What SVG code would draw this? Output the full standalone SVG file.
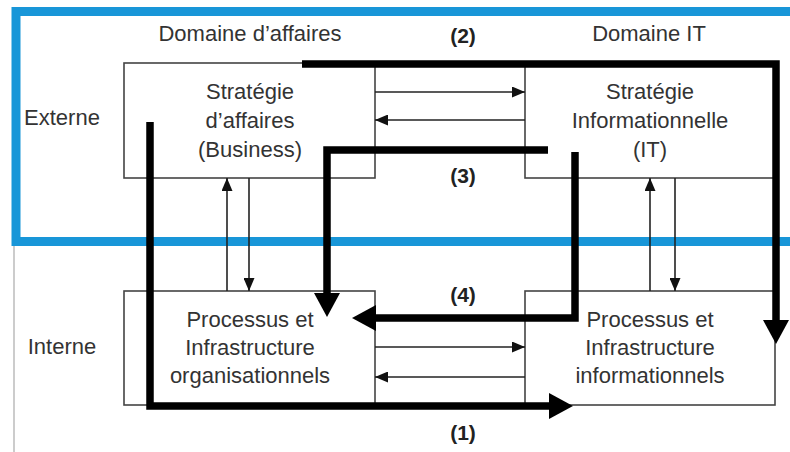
<svg xmlns="http://www.w3.org/2000/svg" width="790" height="452" viewBox="0 0 790 452">
<style>
.box{fill:#fff;stroke:#444;stroke-width:1.6}
.t{font-family:"Liberation Sans",Arial,sans-serif;font-size:22px;fill:#333;text-anchor:middle}
.lb{font-family:"Liberation Sans",Arial,sans-serif;font-size:21px;font-weight:bold;fill:#222;text-anchor:middle}
.thin{fill:none;stroke:#222;stroke-width:1.6}
.thick{fill:none;stroke:#000;stroke-width:7.5;stroke-linejoin:miter;stroke-linecap:butt}
</style>
<defs>
<marker id="a" markerUnits="userSpaceOnUse" markerWidth="13" markerHeight="11" viewBox="0 0 13 11" refX="13" refY="5.5" orient="auto"><path d="M0,0 L13,5.5 L0,11 z" fill="#111"/></marker>
<marker id="A" markerUnits="userSpaceOnUse" markerWidth="24" markerHeight="26" viewBox="0 0 24 26" refX="0" refY="13" orient="auto"><path d="M0,0 L24,13 L0,26 z" fill="#000"/></marker>
</defs>
<rect x="0" y="0" width="790" height="452" fill="#fff"/>
<line x1="14" y1="246" x2="14" y2="452" stroke="#bbb" stroke-width="1.5"/>
<rect x="16" y="11.5" width="800" height="230" fill="none" stroke="#1896d8" stroke-width="9"/>
<text class="t" x="250" y="41">Domaine d’affaires</text>
<text class="t" x="649" y="41">Domaine IT</text>
<text class="t" x="62" y="125">Externe</text>
<text class="t" x="62" y="354">Interne</text>
<g id="strat-affaires">
<rect class="box" x="124" y="63" width="251" height="115"/>
<text class="t" x="250" y="99">Stratégie</text>
<text class="t" x="250" y="128">d’affaires</text>
<text class="t" x="250" y="157">(Business)</text>
</g>
<g id="strat-info">
<rect class="box" x="525" y="63" width="250" height="115"/>
<text class="t" x="650" y="99">Stratégie</text>
<text class="t" x="650" y="128">Informationnelle</text>
<text class="t" x="650" y="157">(IT)</text>
</g>
<g id="proc-org">
<rect class="box" x="124" y="291" width="251" height="114"/>
<text class="t" x="250" y="327">Processus et</text>
<text class="t" x="250" y="355">Infrastructure</text>
<text class="t" x="250" y="383">organisationnels</text>
</g>
<g id="proc-info">
<rect class="box" x="525" y="291" width="250" height="114"/>
<text class="t" x="650" y="327">Processus et</text>
<text class="t" x="650" y="355">Infrastructure</text>
<text class="t" x="650" y="383">informationnels</text>
</g>
<g id="connectors">
<line class="thin" x1="375" y1="92" x2="525" y2="92" marker-end="url(#a)"/>
<line class="thin" x1="525" y1="120" x2="375" y2="120" marker-end="url(#a)"/>
<line class="thin" x1="375" y1="347" x2="525" y2="347" marker-end="url(#a)"/>
<line class="thin" x1="525" y1="377" x2="375" y2="377" marker-end="url(#a)"/>
<line class="thin" x1="227" y1="291" x2="227" y2="178" marker-end="url(#a)"/>
<line class="thin" x1="249" y1="178" x2="249" y2="291" marker-end="url(#a)"/>
<line class="thin" x1="650" y1="291" x2="650" y2="178" marker-end="url(#a)"/>
<line class="thin" x1="675" y1="178" x2="675" y2="291" marker-end="url(#a)"/>
<path class="thick" d="M302,64 H776 V320" marker-end="url(#A)"/>
<path class="thick" d="M150,122 V406 H549" marker-end="url(#A)"/>
<path class="thick" d="M548,150 H327 V293" marker-end="url(#A)"/>
<path class="thick" d="M575,152 V318 H376" marker-end="url(#A)"/>
</g>
<text class="lb" x="463" y="43">(2)</text>
<text class="lb" x="463" y="183">(3)</text>
<text class="lb" x="463" y="302">(4)</text>
<text class="lb" x="463" y="440">(1)</text>
</svg>
